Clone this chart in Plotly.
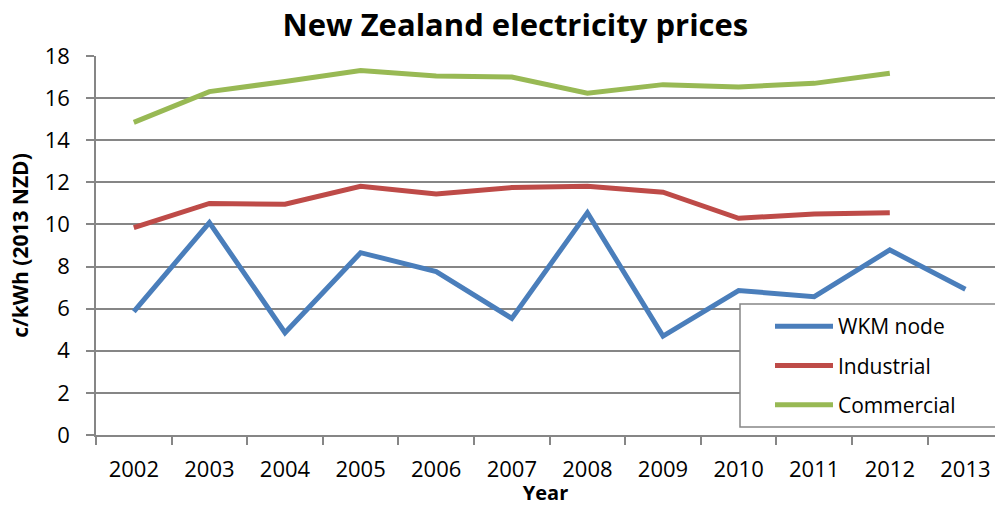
import plotly.graph_objects as go

years = ["2002", "2003", "2004", "2005", "2006", "2007", "2008", "2009", "2010", "2011", "2012", "2013"]
wkm_node = [5.86, 10.09, 4.86, 8.66, 7.76, 5.54, 10.56, 4.70, 6.86, 6.57, 8.79, 6.92]
industrial = [9.85, 11.00, 10.96, 11.81, 11.45, 11.75, 11.81, 11.53, 10.29, 10.50, 10.56]
commercial = [14.85, 16.31, 16.79, 17.31, 17.05, 17.00, 16.23, 16.64, 16.53, 16.70, 17.18]
y_ticks = [0, 2, 4, 6, 8, 10, 12, 14, 16, 18]

FONT = "Open Sans"
GRID = "#868686"

fig = go.Figure()
series = [("WKM node", wkm_node, "#4A7EBB"),
          ("Industrial", industrial, "#BE4B48"),
          ("Commercial", commercial, "#98B954")]
for name, vals, col in series:
    fig.add_trace(go.Scatter(
        x=years[:len(vals)], y=vals, name=name, mode="lines",
        line=dict(color=col, width=5), legendgroup=name))

# legend frame (extends past the right edge like the reference)
fig.add_shape(type="rect", xref="paper", yref="paper",
              x0=(740 - 96) / 899, x1=1.05, y0=(435 - 427) / 379, y1=(435 - 304) / 379,
              line=dict(color=GRID, width=1.5), fillcolor="white", layer="above")

fig.update_layout(
    width=995, height=506,
    margin=dict(l=96, r=0, t=56, b=71, autoexpand=False),
    paper_bgcolor="white", plot_bgcolor="white",
    font=dict(family=FONT, color="black", size=20),
    title=dict(text="<b>New Zealand electricity prices</b>", x=0.518, xanchor="center",
               y=1 - 25 / 506, yanchor="middle", yref="container", automargin=False,
               font=dict(family=FONT, size=31, color="black")),
    showlegend=True,
    legend=dict(x=(770 - 96) / 899, y=(435 - 306) / 379, xanchor="left", yanchor="top",
                bgcolor="rgba(0,0,0,0)", borderwidth=0,
                font=dict(family=FONT, size=21, color="black"),
                tracegroupgap=9, itemwidth=58),
)
fig.update_xaxes(
    type="category", categoryorder="array", categoryarray=years,
    range=[-0.5, -0.5 + 899 / 75.6], tickson="boundaries", automargin=False,
    ticks="outside", ticklen=8, tickwidth=1.5, tickcolor=GRID,
    showline=True, linecolor=GRID, linewidth=1.5, showgrid=False,
    tickfont=dict(family=FONT, size=22), ticklabelstandoff=14,
    title=dict(text="<b>Year</b>", font=dict(family=FONT, size=20), standoff=0),
)
fig.update_yaxes(
    range=[0, 18], tickvals=y_ticks, ticks="outside", ticklen=8, tickwidth=1.5, tickcolor=GRID,
    showline=True, linecolor=GRID, linewidth=1.5, showgrid=True, gridcolor=GRID, gridwidth=1.5,
    zeroline=False, tickfont=dict(family=FONT, size=22), ticklabelstandoff=12, automargin=False,
    title=dict(text="<b>c/kWh (2013 NZD)</b>", font=dict(family=FONT, size=21), standoff=10),
)
fig.write_html("out.html", config={"displayModeBar": False},
               post_script="document.body.style.margin='0';document.body.style.overflow='hidden';")
